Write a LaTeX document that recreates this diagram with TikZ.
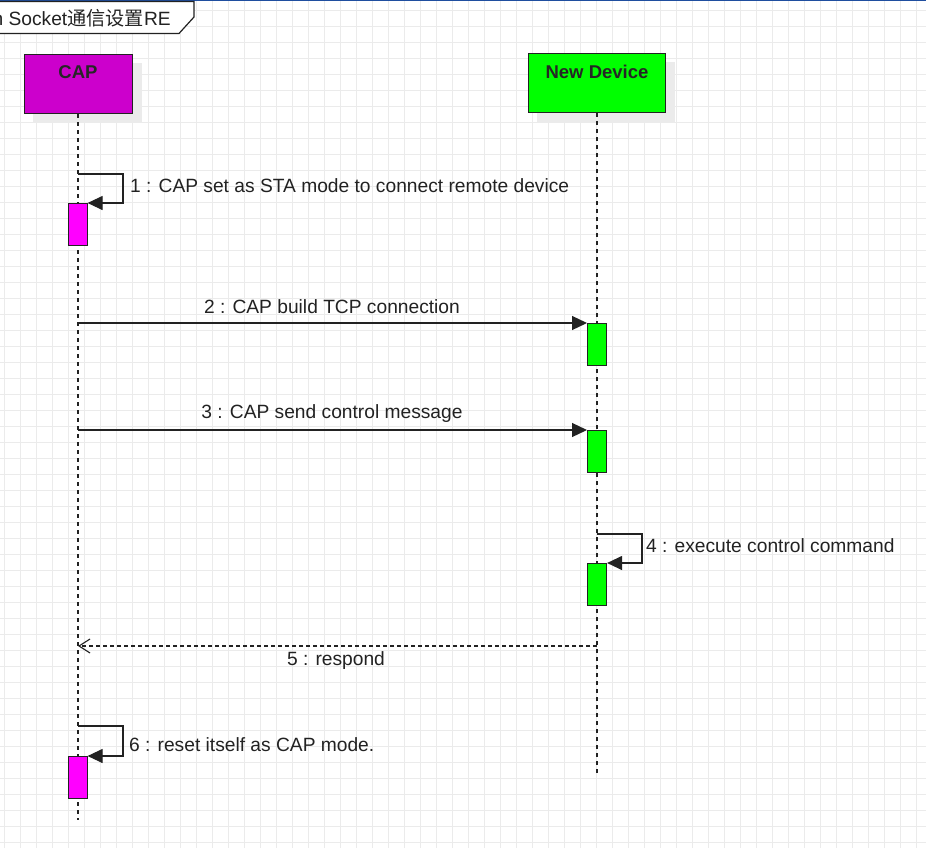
\documentclass[tikz,border=0pt]{standalone}
\usepackage{fontspec}
\setmainfont{Liberation Sans}
\newfontfamily\cjk{Noto Sans CJK SC}
\usetikzlibrary{arrows.meta}
\definecolor{capfill}{HTML}{CC00CC}
\definecolor{capact}{HTML}{FF00FF}
\definecolor{devfill}{HTML}{00FF00}
\definecolor{lncol}{HTML}{222222}
\definecolor{gridcol}{HTML}{EBEBEB}
\definecolor{shadowcol}{HTML}{EBEBEB}
\definecolor{topblue}{HTML}{1F4E9F}
\tikzset{
  lbl/.style={font=\fontsize{19.2}{22}\selectfont, text=lncol, inner sep=0pt},
  actor/.style={draw=lncol, line width=1.2pt, minimum height=59pt, inner sep=0pt, anchor=north west},
  actorlbl/.style={font=\bfseries\fontsize{18.5}{22}\selectfont, text=black!85, inner sep=0pt},
  actbox/.style={draw=lncol, line width=1.1pt, minimum width=19pt, minimum height=42pt, inner sep=0pt, anchor=north west},
  life/.style={lncol, line width=1.1pt, dash pattern=on 4pt off 4pt},
  msg/.style={lncol, line width=1.2pt, -{Triangle[length=15pt,width=14pt]}},
  ret/.style={lncol, line width=1.1pt, dash pattern=on 4pt off 3pt, -{Straight Barb[length=11pt,width=14pt,line width=1.1pt]}},
}
\begin{document}
\begin{tikzpicture}[x=1pt,y=-1pt]
\useasboundingbox (0,0) rectangle (926,848);
\begin{scope}
\clip (0,0) rectangle (926,848);
\fill[white] (0,0) rectangle (926,848);
% grid
\foreach \gx in {4,20,...,924} \draw[gridcol, line width=0.8pt] (\gx,0) -- (\gx,848);
\foreach \gy in {10,26,...,846} \draw[gridcol, line width=0.8pt] (0,\gy) -- (926,\gy);
% top frame line
\draw[topblue, line width=2pt] (0,0.5) -- (926,0.5);
% frame tab
\draw[fill=white, draw=lncol, line width=1.2pt] (-5,1.5) -- (194,1.5) -- (194,17) -- (179,33.5) -- (-5,33.5);
\node[lbl, anchor=east] (title) at (171,18) {n Socket{\cjk 通信设置}RE};
% shadows
\fill[shadowcol] (33,63) rectangle (142,122);
\fill[shadowcol] (537,62) rectangle (675,122);
% actors
\node[actor, fill=capfill, minimum width=108pt] (cap) at (24,54) {};
\node[actorlbl] (caplbl) at (78,72) {CAP};
\node[actor, fill=devfill, minimum width=137pt] (dev) at (528,53) {};
\node[actorlbl] (devlbl) at (597,72) {New Device};
% lifelines
\coordinate (capb) at (78,820);
\coordinate (devb) at (597,773);
\draw[life] (cap.south -| capb) -- (capb);
\draw[life] (dev.south -| devb) -- (devb);
% activation boxes
\node[actbox, fill=capact] (a1) at (67.5,203) {};
\node[actbox, fill=devfill] (a2) at (587,323) {};
\node[actbox, fill=devfill] (a3) at (587,430) {};
\node[actbox, fill=devfill] (a4) at (587,563) {};
\node[actbox, fill=capact] (a6) at (67.5,756) {};
% message 1
\coordinate (s1) at (78,174);
\draw[msg] (s1) -- (123,174) -- (123,203) -- (a1.north east);
\node[lbl, anchor=west] (l1) at (130,186) {1 : CAP set as STA mode to connect remote device};
% message 2
\coordinate (s2) at (78,323);
\draw[msg] (s2) -- (a2.north west);
\node[lbl] (l2) at (332,307) {2 : CAP build TCP connection};
% message 3
\coordinate (s3) at (78,430);
\draw[msg] (s3) -- (a3.north west);
\node[lbl] (l3) at (332,414) {3 : CAP send control message};
% message 4
\coordinate (s4) at (597,534);
\draw[msg] (s4) -- (642,534) -- (642,563) -- (a4.north east);
\node[lbl, anchor=west] (l4) at (646,546) {4 : execute control command};
% message 5
\coordinate (s5) at (597,646);
\coordinate (e5) at (78,646);
\draw[ret] (s5) -- (e5);
\node[lbl] (l5) at (336,661) {5 : respond};
% message 6
\coordinate (s6) at (78,726);
\draw[msg] (s6) -- (123,726) -- (123,756) -- (a6.north east);
\node[lbl, anchor=west] (l6) at (129,745) {6 : reset itself as CAP mode.};
\end{scope}
\end{tikzpicture}
\end{document}
